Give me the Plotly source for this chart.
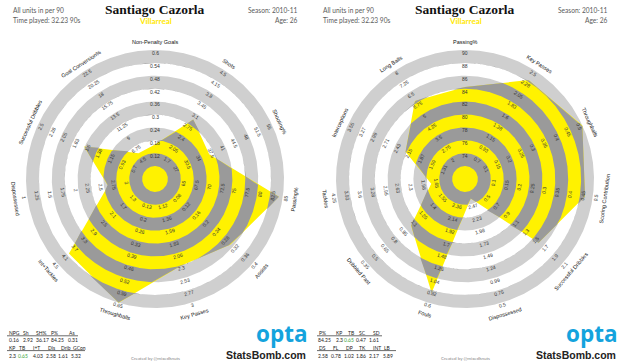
import numpy as np
import plotly.graph_objects as go

# ---------------- data ----------------
LEFT_AXES = ["Non-Penalty Goals", "Shots", "Shooting%", "Passing%", "Assists", "Key Passes",
             "Throughballs", "Int+Tackles", "Dispossessed", "Successful Dribbles", "Goal Conversion%"]
LEFT_CENTER = [0, 1.0, 20, 60, 0, 0.65, 0, 0.5, 3.5, 0.25, 0]
LEFT_OUTER = [0.6, 4.5, 55, 85, 0.4, 3.0, 0.65, 4.5, 1.0, 2.5, 22.5]
LEFT_VALUES = [0.16, 2.92, 36.17, 84.25, 0.31, 2.3, 0.65, 4.03, 2.58, 1.61, 5.32]
LEFT_TICKS = [
    ["0.12", "0.18", "0.24", "0.3", "0.36", "0.42", "0.48", "0.54", "0.6"],
    ["1.7", "2.05", "2.4", "2.75", "3.1", "3.45", "3.8", "4.15", "4.5"],
    ["27", "30.5", "34", "37.5", "41", "44.5", "48", "51.5", "55"],
    ["65", "67.5", "70", "72.5", "75", "77.5", "80", "82.5", "85"],
    ["0.08", "0.12", "0.16", "0.2", "0.24", "0.28", "0.32", "0.36", "0.4"],
    ["1.12", "1.36", "1.59", "1.83", "2.06", "2.3", "2.53", "2.77", "3"],
    ["0.13", "0.2", "0.26", "0.33", "0.39", "0.46", "0.52", "0.59", "0.65"],
    ["1.3", "1.7", "2.1", "2.5", "2.9", "3.3", "3.7", "4.1", "4.5"],
    ["3", "2.75", "2.5", "2.25", "2", "1.75", "1.5", "1.25", "1"],
    ["0.7", "0.93", "1.15", "1.38", "1.6", "1.83", "2.05", "2.28", "2.5"],
    ["4.5", "6.75", "9", "11.25", "13.5", "15.75", "18", "20.25", "22.5"],
]

RIGHT_AXES = ["Passing%", "Key Passes", "Throughballs", "Scoring Contribution", "Successful Dribbles",
              "Dispossessed", "Fouls", "Dribbled Past", "Tackles", "Interceptions", "Long Balls"]
RIGHT_CENTER = [70, 0.25, 0, 0, 0.1, 2.97, 2.8, 1.85, 1.0, 0.75, 0.5]
RIGHT_OUTER = [90, 2.5, 0.5, 0.5, 2.1, 0.5, 0.6, 0.35, 4.25, 3.55, 8]
RIGHT_VALUES = [84.25, 2.3, 0.65, 0.47, 1.61, 2.58, 0.78, 1.02, 1.86, 2.17, 5.89]
RIGHT_TICKS = [
    ["74", "76", "78", "80", "82", "84", "86", "88", "90"],
    ["0.7", "0.93", "1.15", "1.38", "1.6", "1.83", "2.05", "2.28", "2.5"],
    ["0.1", "0.15", "0.2", "0.25", "0.3", "0.35", "0.4", "0.45", "0.5"],
    ["0.1", "0.15", "0.2", "0.25", "0.3", "0.35", "0.4", "0.45", "0.5"],
    ["0.5", "0.7", "0.9", "1.1", "1.3", "1.5", "1.7", "1.9", "2.1"],
    ["2.47", "2.23", "1.98", "1.73", "1.49", "1.24", "0.99", "0.75", "0.5"],
    ["2.36", "2.14", "1.92", "1.7", "1.48", "1.26", "1.04", "0.82", "0.6"],
    ["1.55", "1.4", "1.25", "1.1", "0.95", "0.8", "0.65", "0.5", "0.35"],
    ["1.65", "1.98", "2.3", "2.63", "2.95", "3.28", "3.6", "3.93", "4.25"],
    ["1.31", "1.59", "1.87", "2.15", "2.43", "2.71", "2.99", "3.27", "3.55"],
    ["2", "2.75", "3.5", "4.25", "5", "5.75", "6.5", "7.25", "8"],
]

PLAYER = "Santiago Cazorla"
TEAM = "Villarreal"
UNITS = "All units in per 90"
TIME_PLAYED = "Time played: 32.23 90s"
SEASON = "Season: 2010-11"
AGE = "Age: 26"

LEFT_HEAD1 = ["NPG", "Sh", "SH%", "P%", "As"]
LEFT_VAL1 = ["0.16", "2.92", "36.17", "84.25", "0.31"]
LEFT_HEAD2 = ["KP", "TB", "I+T", "Dis", "Drib", "GCon"]
LEFT_VAL2 = ["2.3", "0.65", "4.03", "2.58", "1.61", "5.32"]
RIGHT_HEAD1 = ["P%", "KP", "TB", "SC", "SD"]
RIGHT_VAL1 = ["84.25", "2.3", "0.65", "0.47", "1.61"]
RIGHT_HEAD2 = ["DS", "FL", "DP", "TK", "INT", "LB"]
RIGHT_VAL2 = ["2.58", "0.78", "1.02", "1.86", "2.17", "5.89"]

# ---------------- layout constants ----------------
W, H = 620, 362
PW = 310
CX, CY = 155, 179
R_OUT = 129.0
N_RING = 10
BAND = R_OUT / N_RING
LIGHT = "#CFCFCF"
DARK = "#9A9A9A"
YELLOW = "#FFF200"
TICK_FONT = dict(family="Liberation Sans", size=5, color="#333333")
NAME_FONT = dict(family="Liberation Sans", size=5.5, color="#111111")
SMALL_FONT = dict(family="Lato", size=6.6, color="#5a5a5a")
TABLE_FONT = dict(family="Lato", size=5, color="#222222")

fig = go.Figure()
annotations = []
shapes = []


def norm(v, c, o):
    v, c, o = map(np.asarray, (v, c, o))
    return np.clip((v - c) / (o - c), 0, 1)


def text_angle(theta_deg):
    a = 90 - theta_deg
    while a > 90:
        a -= 180
    while a <= -90:
        a += 180
    return a


def build_panel(idx, axes, centers, outers, values, ticks):
    xr = "x" if idx == 0 else "x2"
    yr = "y" if idx == 0 else "y2"
    n = len(axes)
    step = 360.0 / n
    axis_deg = 90 - np.arange(n) * step
    ang = np.radians(axis_deg)
    rad = norm(values, centers, outers) * R_OUT
    vx, vy = rad * np.cos(ang), rad * np.sin(ang)

    phi = np.union1d(np.linspace(0, 360, 1441), np.arange(n + 1) * step)
    th = np.radians(90 - phi)
    ux, uy = np.cos(th), np.sin(th)
    ei = np.minimum((phi // step).astype(int), n - 1)
    p1x, p1y = vx[ei], vy[ei]
    p2x, p2y = vx[(ei + 1) % n], vy[(ei + 1) % n]
    dx, dy = p2x - p1x, p2y - p1y
    Rpoly = (p1x * dy - p1y * dx) / (ux * dy - uy * dx)

    common = dict(mode="lines", line=dict(width=0), hoverinfo="skip", showlegend=False,
                  xaxis=xr, yaxis=yr, fill="toself")
    # light grey rings
    for k in range(2, N_RING + 1, 2):
        a, b = (k - 1) * BAND, k * BAND
        xs = np.concatenate([b * ux, a * ux[::-1]])
        ys = np.concatenate([b * uy, a * uy[::-1]])
        fig.add_trace(go.Scatter(x=xs, y=ys, fillcolor=LIGHT, **common))
    # polygon
    fig.add_trace(go.Scatter(x=np.append(vx, vx[0]), y=np.append(vy, vy[0]),
                             fillcolor=YELLOW, **common))
    # dark rings clipped to polygon
    for k in range(2, N_RING + 1, 2):
        a, b = (k - 1) * BAND, k * BAND
        rr = np.clip(Rpoly, a, b)
        xs = np.concatenate([rr * ux, a * ux[::-1]])
        ys = np.concatenate([rr * uy, a * uy[::-1]])
        fig.add_trace(go.Scatter(x=xs, y=ys, fillcolor=DARK, **common))

    # tick labels and axis names
    for i in range(n):
        th_d = axis_deg[i]
        a = text_angle(th_d)
        ar = np.radians(a)
        downx, downy = -np.sin(ar), -np.cos(ar)
        cu, su = np.cos(np.radians(th_d)), np.sin(np.radians(th_d))
        for j, lab in enumerate(ticks[i]):
            k = j + 2
            r = k * BAND
            annotations.append(dict(x=r * cu + 2.8 * downx, y=r * su + 2.8 * downy, xref=xr, yref=yr,
                                    text=lab, showarrow=False, textangle=a, font=TICK_FONT,
                                    xanchor="center", yanchor="middle", borderpad=0))
        r = R_OUT + 10
        annotations.append(dict(x=r * cu + 2 * downx, y=r * su + 2 * downy, xref=xr, yref=yr,
                                text=axes[i], showarrow=False, textangle=a, font=NAME_FONT,
                                xanchor="center", yanchor="middle", borderpad=0))

    def at(px, py, text, font, xanchor="left", **kw):
        annotations.append(dict(x=px - CX, y=CY - py, xref=xr, yref=yr, text=text, showarrow=False,
                                font=font, xanchor=xanchor, yanchor="middle", borderpad=0, **kw))

    # header
    at(155, 9.5, "<b>" + PLAYER + "</b>", dict(family="Liberation Serif", size=13.5, color="#111111"), "center")
    at(155, 20.5, "<b>" + TEAM + "</b>", dict(family="Lato", size=8, color="#FFE800"), "center")
    at(12, 10, UNITS, SMALL_FONT)
    at(12, 20, TIME_PLAYED, SMALL_FONT)
    at(298, 10, SEASON, SMALL_FONT, "right")
    at(298, 20, AGE, SMALL_FONT, "right")

    # table
    if idx == 0:
        h1x, v1x = [8, 22, 35, 50, 68], [8, 22, 35, 50, 67]
        h2x, v2x = [8, 18, 32, 47, 60, 72], [8, 17, 32, 45, 57, 70]
        heads1, vals1, heads2, vals2 = LEFT_HEAD1, LEFT_VAL1, LEFT_HEAD2, LEFT_VAL2
        ul1, ul2 = 78, 85
        green = (1, 1)
    else:
        h1x, v1x = [8, 25, 37, 48, 62], [7, 25, 33, 45, 58]
        h2x, v2x = [8, 22, 35, 48, 62, 73], [7, 20, 33, 45, 58, 72]
        heads1, vals1, heads2, vals2 = RIGHT_HEAD1, RIGHT_VAL1, RIGHT_HEAD2, RIGHT_VAL2
        ul1, ul2 = 72, 86
        green = (0, 2)
    for x, t in zip(h1x, heads1):
        at(x, 332.5, t, TABLE_FONT)
    for j, (x, t) in enumerate(zip(v1x, vals1)):
        f = dict(TABLE_FONT, color="#3aa53a") if (green[0] == 0 and j == green[1]) else TABLE_FONT
        at(x, 340, t, f)
    for x, t in zip(h2x, heads2):
        at(x, 347.5, t, TABLE_FONT)
    for j, (x, t) in enumerate(zip(v2x, vals2)):
        f = dict(TABLE_FONT, color="#3aa53a") if (green[0] == 1 and j == green[1]) else TABLE_FONT
        at(x, 355.5, t, f)
    for (yy, x1) in ((335.8, ul1), (350.6, ul2)):
        shapes.append(dict(type="line", xref=xr, yref=yr, x0=7 - CX, x1=x1 - CX, y0=CY - yy, y1=CY - yy,
                           line=dict(color="#444444", width=0.8)))

    at(155, 358, "Created by @mixedknuts", dict(family="Lato", size=4.5, color="#888888"), "center")
    at(282, 333.5, "<b>opta</b>", dict(family="Open Sans", size=22.5, color="#14A3DD"), "center")
    at(266, 354.5, "<b>StatsBomb.com</b>", dict(family="Liberation Sans", size=10.5, color="#222222"), "center")


build_panel(0, LEFT_AXES, LEFT_CENTER, LEFT_OUTER, LEFT_VALUES, LEFT_TICKS)
build_panel(1, RIGHT_AXES, RIGHT_CENTER, RIGHT_OUTER, RIGHT_VALUES, RIGHT_TICKS)

ax = dict(visible=False, showgrid=False, zeroline=False, fixedrange=True)
fig.update_layout(
    width=W, height=H, margin=dict(l=0, r=0, t=0, b=0),
    paper_bgcolor="white", plot_bgcolor="white",
    xaxis=dict(domain=[0, 0.5], range=[-CX, PW - CX], anchor="y", **ax),
    yaxis=dict(domain=[0, 1], range=[-(H - CY), CY], anchor="x", **ax),
    xaxis2=dict(domain=[0.5, 1], range=[-CX, PW - CX], anchor="y2", **ax),
    yaxis2=dict(domain=[0, 1], range=[-(H - CY), CY], anchor="x2", **ax),
    annotations=annotations, shapes=shapes,
)
fig.write_html("out.html", post_script="document.body.style.margin='0px';",
               config={"displayModeBar": False})
